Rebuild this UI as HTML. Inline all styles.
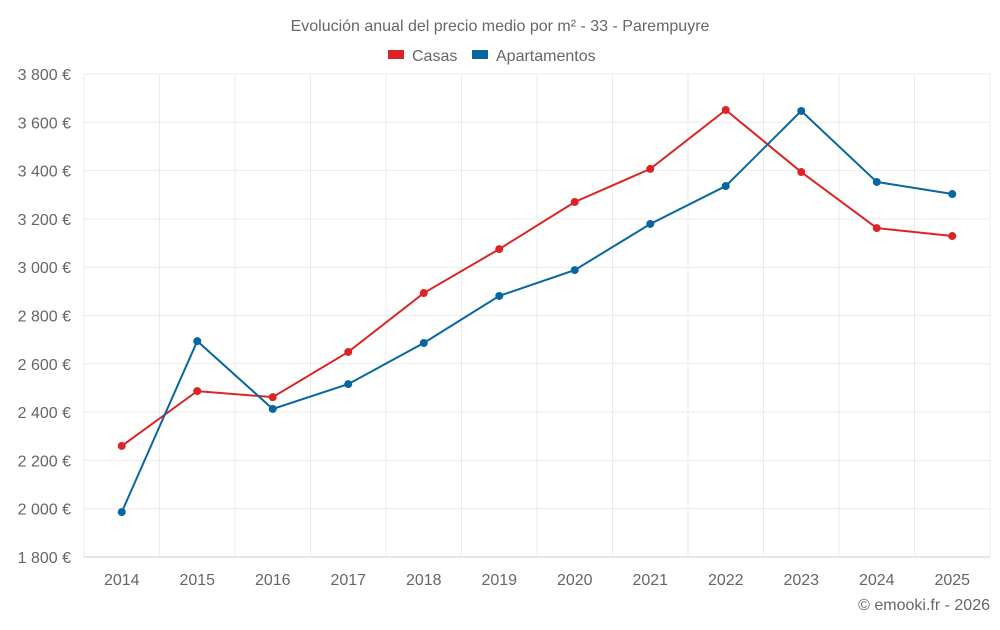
<!DOCTYPE html>
<html><head><meta charset="utf-8"><style>
body{margin:0;background:#fff;font-family:"Liberation Sans",sans-serif;}
svg text{font-family:"Liberation Sans",sans-serif;}
</style></head><body>
<svg id="chart" width="1000" height="625">
<text x="500" y="31" text-anchor="middle" font-size="16" fill="#666">Evolución anual del precio medio por m² - 33 - Parempuyre</text>
<g>
<g><rect x="388" y="50" width="16" height="9" fill="#dc2424"/><text x="412" y="61" font-size="16" fill="#666">Casas</text></g>
<g><rect x="472" y="50" width="16" height="9" fill="#0866a0"/><text x="496" y="61" font-size="16" fill="#666">Apartamentos</text></g>
</g>
<g id="grid"></g>
<g id="axes"></g>
<g id="series"></g>
<text x="990" y="610" text-anchor="end" font-size="16" fill="#666">© emooki.fr - 2026</text>
</svg>
<script>
const years=["2014","2015","2016","2017","2018","2019","2020","2021","2022","2023","2024","2025"];
const casas=[2260,2487,2462,2649,2893,3075,3270,3407,3651,3394,3162,3129];
const apartamentos=[1986,2694,2413,2516,2686,2881,2988,3179,3336,3647,3353,3303];
const yTicks=[1800,2000,2200,2400,2600,2800,3000,3200,3400,3600,3800];
const NS="http://www.w3.org/2000/svg";
const L=84,R=990,T=74,B=557,yMin=1800,yMax=3800;
const bw=(R-L)/years.length;
const x=i=>L+bw*(i+0.5);
const y=v=>B-(v-yMin)/(yMax-yMin)*(B-T);
function mk(tag,attrs,parent){const e=document.createElementNS(NS,tag);for(const k in attrs)e.setAttribute(k,attrs[k]);parent.appendChild(e);return e;}
const grid=document.getElementById('grid'),axes=document.getElementById('axes'),series=document.getElementById('series');
const fmt=v=>String(v).replace(/\B(?=(\d{3})+(?!\d))/g," ")+" €";
yTicks.forEach(v=>{
 const l=mk('line',{x1:L,x2:R,y1:y(v),y2:y(v),stroke:v===yMin?'#ccc':'#ebebeb','stroke-width':1},grid);
 
 
 const t=mk('text',{x:L-13,y:y(v)+6,'text-anchor':'end','font-size':16,fill:'#666'},axes);
 t.textContent=fmt(v);
 
 
});
for(let i=0;i<=years.length;i++){
 const l=mk('line',{x1:L+bw*i,x2:L+bw*i,y1:T,y2:B+(i===0?0:0),stroke:'#ebebeb','stroke-width':1},grid);
 
 
}
years.forEach((yr,i)=>{
 const t=mk('text',{x:x(i),y:585,'text-anchor':'middle','font-size':16,fill:'#666'},axes);
 t.textContent=yr;
 
 
});
function draw(vals,color,name){
 const p=mk('polyline',{points:vals.map((v,i)=>x(i)+','+y(v)).join(' '),fill:'none',stroke:color,'stroke-width':2},series);
 
 
 vals.forEach((v,i)=>{
  const c=mk('circle',{cx:x(i),cy:y(v),r:4,fill:color},series);
  
  
 });
}
draw(casas,'#dc2424','casas');
draw(apartamentos,'#0866a0','apartamentos');
</script>
</body></html>
